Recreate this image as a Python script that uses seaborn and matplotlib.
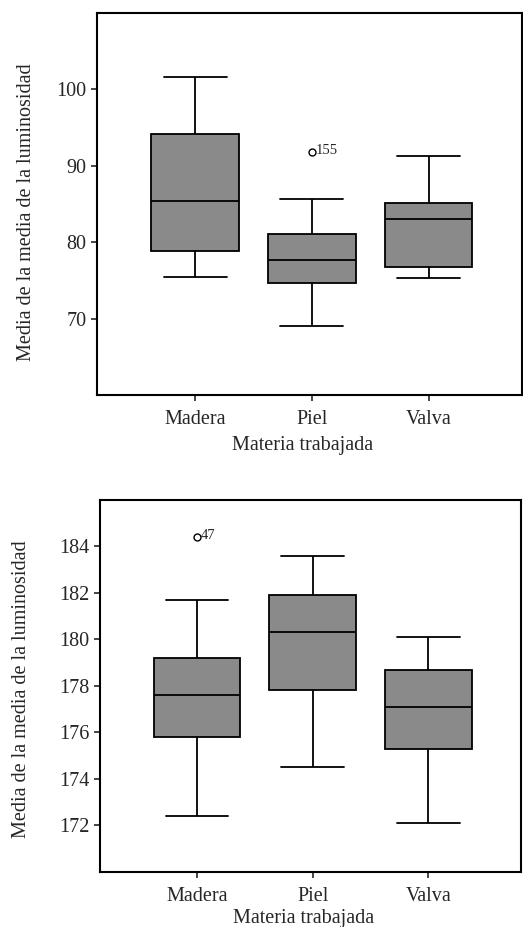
import matplotlib
matplotlib.use("Agg")
import matplotlib.pyplot as plt
import seaborn as sns
import pandas as pd

# ---------------- data ----------------
categories = ["Madera", "Piel", "Valva"]

# Panel 1 (top)
p1_whislo = [75.5, 69.0, 75.3]
p1_q1 = [78.8, 74.7, 76.8]
p1_med = [85.4, 77.7, 83.0]
p1_q3 = [94.2, 81.1, 85.1]
p1_whishi = [101.6, 85.7, 91.3]
p1_outlier = [None, 91.8, None]
p1_outlier_label = [None, "155", None]
p1_yticks = [70, 80, 90, 100]
p1_ylim = (60, 110)

# Panel 2 (bottom)
p2_whislo = [172.4, 174.5, 172.1]
p2_q1 = [175.8, 177.8, 175.3]
p2_med = [177.6, 180.3, 177.1]
p2_q3 = [179.2, 181.9, 178.7]
p2_whishi = [181.7, 183.6, 180.1]
p2_outlier = [184.4, None, None]
p2_outlier_label = ["47", None, None]
p2_yticks = [172, 174, 176, 178, 180, 182, 184]
p2_ylim = (170, 186)

xlabel = "Materia trabajada"
ylabel = "Media de la media de la luminosidad"


def build_frame(lo, q1, med, q3, hi, out):
    """Observations whose five-number summary reproduces the read values."""
    rows = []
    for c, a, b, m, d, e, o in zip(categories, lo, q1, med, q3, hi, out):
        if o is None:
            vals = [a, b, b, m, m, m, d, d, e]
        else:
            vals = [a, b, b, m, m, m, d, e, o]
        rows += [(c, v) for v in vals]
    return pd.DataFrame(rows, columns=["Materia", "valor"])


sns.set_style("ticks")
plt.rcParams["font.family"] = ["Liberation Serif", "DejaVu Serif"]

fig = plt.figure(figsize=(5.23, 9.27), dpi=100)
ax1 = fig.add_axes([0.1855, 0.574, 0.8125, 0.412])
ax2 = fig.add_axes([0.191, 0.0597, 0.805, 0.401])

panels = [
    (ax1, build_frame(p1_whislo, p1_q1, p1_med, p1_q3, p1_whishi, p1_outlier),
     p1_outlier, p1_outlier_label, p1_yticks, p1_ylim,
     (-0.1435, 0.478), (0.4835, -0.107)),
    (ax2, build_frame(p2_whislo, p2_q1, p2_med, p2_q3, p2_whishi, p2_outlier),
     p2_outlier, p2_outlier_label, p2_yticks, p2_ylim,
     (-0.164, 0.4915), (0.483, -0.1)),
]

FS = 14.5
for ax, df, outs, olabels, yticks, ylim, ylc, xlc in panels:
    sns.boxplot(
        data=df, x="Materia", y="valor", order=categories, ax=ax,
        color="#8a8a8a", saturation=1, width=0.75, linecolor="black",
        linewidth=1.3, capwidths=0.54,
        flierprops=dict(marker="o", markersize=5, markerfacecolor="none",
                        markeredgecolor="black", markeredgewidth=1.0),
    )
    for i, (o, lab) in enumerate(zip(outs, olabels)):
        if o is not None:
            ax.annotate(lab, (i, o), xytext=(3, 1), textcoords="offset points",
                        fontsize=10.5, ha="left", va="center")
    ax.set_ylim(*ylim)
    ax.set_yticks(yticks)
    ax.set_xlim(-0.84, 2.8)
    ax.set_xlabel(xlabel, fontsize=FS)
    ax.set_ylabel(ylabel, fontsize=FS)
    ax.yaxis.set_label_coords(*ylc)
    ax.xaxis.set_label_coords(*xlc)
    ax.tick_params(axis="both", direction="out", length=4, width=1.2,
                   labelsize=FS)
    ax.tick_params(axis="x", pad=7)
    ax.tick_params(axis="y", pad=3.5)
    for s in ax.spines.values():
        s.set_linewidth(1.5)
        s.set_color("black")

fig.savefig("out.png", dpi=100, facecolor="white")
